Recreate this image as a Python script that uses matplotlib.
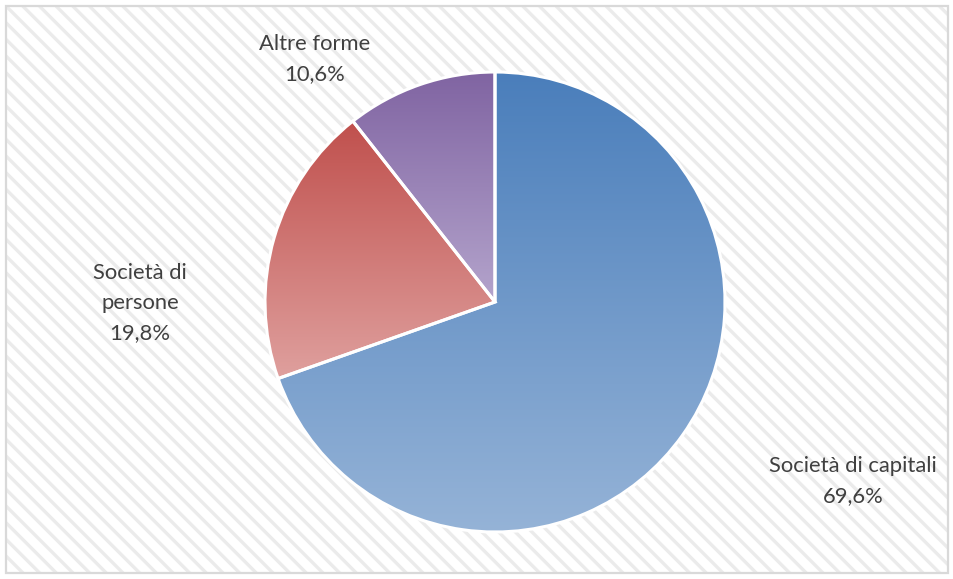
import numpy as np
from matplotlib import pyplot as plt
from matplotlib.colors import to_rgb
from matplotlib.patches import Rectangle

# data
categories = ["Società di capitali", "Società di\npersone", "Altre forme"]
shares = [69.6, 19.8, 10.6]
top_colors = ["#4a7ebb", "#c0504d", "#8064a2"]
bottom_colors = ["#95b3d7", "#dfa09e", "#b4a4cc"]

W, H = 954, 579
plt.rcParams["hatch.linewidth"] = 2.4
fig = plt.figure(figsize=(W / 100, H / 100), dpi=100)
ax = fig.add_axes([0, 0, 1, 1])

# hatched chart area background
ax.add_patch(Rectangle((6, 6), W - 12, H - 12, facecolor="white",
                       edgecolor="#ebebeb", hatch="\\\\", linewidth=0,
                       zorder=0))
ax.add_patch(Rectangle((6, 6), W - 12, H - 12, fill=False, edgecolor="#d9d9d9",
                       linewidth=1.6, zorder=5))

center = (495, H - 302)
wedges, _ = ax.pie(shares, center=center, radius=230, startangle=90,
                   counterclock=False,
                   wedgeprops=dict(edgecolor="white", linewidth=2.2))

# vertical gradient per slice
for w, c_top, c_bot in zip(wedges, top_colors, bottom_colors):
    ext = w.get_path().get_extents()
    t = np.linspace(0, 1, 256)[:, None, None]
    grad = (1 - t) * np.array(to_rgb(c_top)) + t * np.array(to_rgb(c_bot))
    im = ax.imshow(grad, extent=(ext.x0, ext.x1, ext.y0, ext.y1),
                   origin="upper", aspect="auto", zorder=1,
                   interpolation="bilinear")
    im.set_clip_path(w)
    w.set_facecolor("none")
    w.set_zorder(2)

# labels
label_pos = [(853, H - 481), (140, H - 303), (315, H - 59)]
for name, val, (x, y) in zip(categories, shares, label_pos):
    txt = f"{name}\n{val:.1f}%".replace(".", ",")
    ax.text(x, y, txt, ha="center", va="center", fontsize=15.8, family="Lato",
            color="#404040", linespacing=1.6, zorder=3)

ax.set_xlim(0, W)
ax.set_ylim(0, H)
ax.set_aspect("equal")
ax.axis("off")
fig.savefig("out.png", dpi=100)
